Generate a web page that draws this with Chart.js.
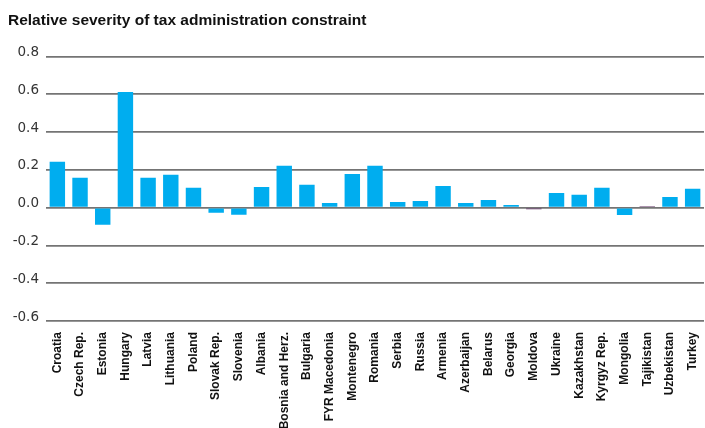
<!DOCTYPE html>
<html>
<head>
<meta charset="utf-8">
<script src="https://cdn.jsdelivr.net/npm/chart.js@4"></script>
<style>
  html, body { margin: 0; padding: 0; background: #fff; }
  #wrap { width: 705px; height: 428px; }
</style>
</head>
<body>
<div id="wrap"><canvas id="chart"></canvas></div>
<script>
"use strict";

const countries = [
    'Croatia', 'Czech Rep.', 'Estonia', 'Hungary', 'Latvia', 'Lithuania', 'Poland',
    'Slovak Rep.', 'Slovenia', 'Albania', 'Bosnia and Herz.', 'Bulgaria', 'FYR Macedonia',
    'Montenegro', 'Romania', 'Serbia', 'Russia', 'Armenia', 'Azerbaijan', 'Belarus',
    'Georgia', 'Moldova', 'Ukraine', 'Kazakhstan', 'Kyrgyz Rep.', 'Mongolia',
    'Tajikistan', 'Uzbekistan', 'Turkey'
];

const severity = [
    0.243, 0.158, -0.090, 0.612, 0.158, 0.174, 0.105,
    -0.027, -0.037, 0.110, 0.222, 0.121, 0.025,
    0.179, 0.222, 0.030, 0.036, 0.115, 0.025, 0.041,
    0.014, -0.008, 0.078, 0.068, 0.105, -0.039,
    0.008, 0.057, 0.100
];

const yTicks = [0.8, 0.6, 0.4, 0.2, 0.0, -0.2, -0.4, -0.6];

const BAR_BLUE = '#00adef';
const NEAR_ZERO = '#5b2a5e';

const ctx = document.getElementById('chart').getContext('2d');
const chart = new Chart(ctx, {
    type: 'bar',
    data: {
        labels: countries,
        datasets: [{
            label: 'Relative severity',
            data: severity,
            backgroundColor: severity.map(v => Math.abs(v) < 0.01 ? NEAR_ZERO : BAR_BLUE),
            borderWidth: 0,
            barPercentage: 0.68,
            categoryPercentage: 1.0
        }]
    },
    options: {
        responsive: true,
        maintainAspectRatio: false,
        animation: false,
        layout: {
            padding: { left: 8, right: 1, top: 0, bottom: 0 }
        },
        scales: {
            x: {
                grid: { display: false, drawTicks: false },
                border: { display: false },
                ticks: {
                    autoSkip: false,
                    minRotation: 90,
                    maxRotation: 90,
                    padding: 11,
                    color: '#111',
                    font: { family: '"Liberation Sans", Arial, sans-serif', size: 12, weight: 'bold' }
                },
                afterFit: function (scale) {
                    scale.height = 107;
                    scale.paddingLeft = 0;
                    scale.paddingRight = 0;
                }
            },
            y: {
                min: -0.6,
                max: 0.8,
                z: 1,
                afterBuildTicks: function (scale) {
                    scale.ticks = yTicks.map(v => ({ value: v }));
                },
                grid: {
                    color: '#747474',
                    lineWidth: 1.8,
                    drawTicks: false
                },
                border: { display: false },
                ticks: {
                    padding: 7,
                    labelOffset: -4,
                    color: '#333',
                    font: { family: '"DejaVu Sans", sans-serif', size: 13.5 },
                    callback: v => Number(v).toFixed(1)
                },
                afterFit: function (scale) { scale.width = 38; }
            }
        },
        plugins: {
            legend: { display: false },
            tooltip: { enabled: false },
            title: {
                display: true,
                text: 'Relative severity of tax administration constraint',
                align: 'start',
                color: '#111',
                font: { family: '"Liberation Sans", Arial, sans-serif', size: 15.5, weight: 'bold' },
                padding: { top: 11, bottom: 27 }
            }
        }
    }
});
</script>
</body>
</html>
